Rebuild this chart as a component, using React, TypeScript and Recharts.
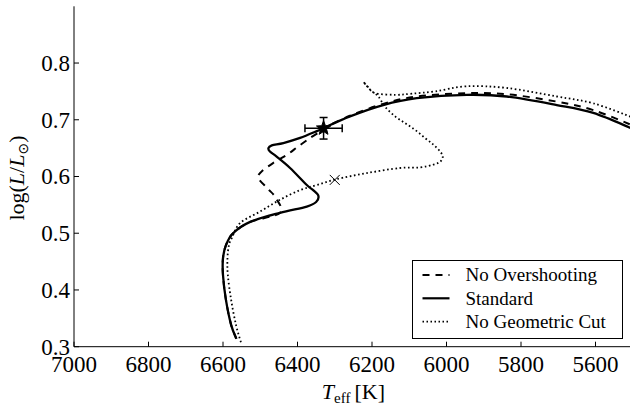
import React from 'react';
import { ComposedChart, Line, Scatter, XAxis, YAxis, ErrorBar, Legend } from 'recharts';

const FONT = "'Liberation Serif', serif";

const xTicks = [7000, 6800, 6600, 6400, 6200, 6000, 5800, 5600];
const yTicks = [0.3, 0.4, 0.5, 0.6, 0.7, 0.8];
const seriesNames = ['No Overshooting', 'Standard', 'No Geometric Cut'];

const standardT = [6564, 6578, 6592, 6600, 6600, 6592, 6573, 6527, 6447, 6375, 6350, 6344, 6358, 6375, 6420, 6456, 6474, 6478, 6469, 6438, 6393, 6348, 6331, 6259, 6170, 6080, 5946, 5838, 5704, 5606, 5500];
const standardL = [0.314, 0.338, 0.382, 0.426, 0.456, 0.479, 0.5, 0.52, 0.536, 0.547, 0.555, 0.566, 0.576, 0.585, 0.615, 0.635, 0.644, 0.65, 0.655, 0.659, 0.668, 0.68, 0.685, 0.706, 0.726, 0.738, 0.744, 0.741, 0.726, 0.712, 0.684];

const noOverT = [6564, 6578, 6592, 6600, 6600, 6592, 6573, 6527, 6447, 6458, 6479, 6505, 6496, 6465, 6429, 6398, 6366, 6340, 6331, 6259, 6170, 6080, 5946, 5838, 5704, 5606, 5500];
const noOverL = [0.314, 0.338, 0.382, 0.426, 0.456, 0.479, 0.5, 0.52, 0.536, 0.562, 0.578, 0.597, 0.609, 0.624, 0.638, 0.653, 0.668, 0.679, 0.685, 0.707, 0.728, 0.741, 0.747, 0.745, 0.732, 0.717, 0.69];

const noCutT = [6552, 6565, 6578, 6587, 6588, 6584, 6576, 6554, 6501, 6447, 6393, 6348, 6297, 6214, 6125, 6071, 6035, 6017, 6010, 6017, 6035, 6058, 6084, 6111, 6138, 6165, 6183, 6205, 6223, 6211, 6192, 6138, 6093, 6031, 5946, 5838, 5704, 5606, 5500];
const noCutL = [0.308, 0.338, 0.382, 0.426, 0.456, 0.479, 0.492, 0.518, 0.538, 0.559, 0.576, 0.585, 0.595, 0.606, 0.615, 0.616, 0.621, 0.626, 0.635, 0.644, 0.656, 0.668, 0.682, 0.694, 0.706, 0.723, 0.741, 0.753, 0.767, 0.758, 0.747, 0.744, 0.746, 0.75, 0.759, 0.756, 0.741, 0.729, 0.704];

const starT = [6330];
const starL = [0.685];
const starTErr = [50];
const starLErr = [0.019];

const crossT = [6300];
const crossL = [0.594];

const zip = (ts: number[], ls: number[]) => ts.map((t, i) => ({ t, l: ls[i] }));
const standardData = zip(standardT, standardL);
const noOverData = zip(noOverT, noOverL);
const noCutData = zip(noCutT, noCutL);
const starData = starT.map((t, i) => ({ t, l: starL[i], te: starTErr[i], le: starLErr[i] }));
const crossData = zip(crossT, crossL);

// Catmull-Rom style curve factory (applied by recharts to scaled points)
const smoothCurve = (context: any) => {
  let pts: [number, number][] = [];
  return {
    areaStart() {},
    areaEnd() {},
    lineStart() {
      pts = [];
    },
    lineEnd() {
      if (!pts.length) return;
      context.moveTo(pts[0][0], pts[0][1]);
      for (let i = 0; i < pts.length - 1; i++) {
        const p0 = pts[Math.max(0, i - 1)];
        const p1 = pts[i];
        const p2 = pts[i + 1];
        const p3 = pts[Math.min(pts.length - 1, i + 2)];
        context.bezierCurveTo(
          p1[0] + (p2[0] - p0[0]) / 6,
          p1[1] + (p2[1] - p0[1]) / 6,
          p2[0] - (p3[0] - p1[0]) / 6,
          p2[1] - (p3[1] - p1[1]) / 6,
          p2[0],
          p2[1]
        );
      }
    },
    point(x: number, y: number) {
      pts.push([x, y]);
    },
  };
};

const TICK_LEN = 5;

const BottomTick = (p: any) => (
  <g>
    <line x1={p.x} y1={p.y} x2={p.x} y2={p.y - TICK_LEN} stroke="#000" strokeWidth={1} />
    <text x={p.x} y={p.y + 25.3} textAnchor="middle" fontFamily={FONT} fontSize={23} fill="#000">
      {String(p.payload.value)}
    </text>
  </g>
);

const TopTick = (p: any) => (
  <line x1={p.x} y1={p.y} x2={p.x} y2={p.y + TICK_LEN} stroke="#000" strokeWidth={1} />
);

const LeftTick = (p: any) => (
  <g>
    <line x1={p.x} y1={p.y} x2={p.x + TICK_LEN} y2={p.y} stroke="#000" strokeWidth={1} />
    <text x={p.x - 4} y={p.y + 7.8} textAnchor="end" fontFamily={FONT} fontSize={23} fill="#000">
      {Number(p.payload.value).toFixed(1)}
    </text>
  </g>
);

const RightTick = (p: any) => (
  <line x1={p.x} y1={p.y} x2={p.x - TICK_LEN} y2={p.y} stroke="#000" strokeWidth={1} />
);

const XLabel = (p: any) => {
  const vb = p.viewBox || { x: 74, y: 346.7, width: 558.75, height: 56.3 };
  const cx = vb.x + vb.width / 2;
  const y = vb.y + 52.3;
  return (
    <text x={cx} y={y} textAnchor="middle" fontFamily={FONT} fontSize={22} fill="#000">
      <tspan fontStyle="italic">T</tspan>
      <tspan fontSize={15} dy={4}>eff</tspan>
      <tspan dy={-4} dx={4}>[K]</tspan>
    </text>
  );
};

const YLabel = (p: any) => {
  const vb = p.viewBox || { x: 0, y: 6.3, width: 74, height: 340.4 };
  const x = 24;
  const cy = vb.y + vb.height / 2 + 1.5;
  return (
    <text
      x={x}
      y={cy}
      transform={`rotate(-90, ${x}, ${cy})`}
      textAnchor="middle"
      fontFamily={FONT}
      fontSize={22}
      fill="#000"
    >
      log(<tspan fontStyle="italic">L</tspan>/<tspan fontStyle="italic">L</tspan>
      <tspan fontSize={14} dy={4} fontFamily="'DejaVu Sans', sans-serif">⊙</tspan>
      <tspan dy={-4}>)</tspan>
    </text>
  );
};

const StarShape = (p: any) => {
  const { cx, cy } = p;
  if (cx == null || cy == null) return <g />;
  const R = 7.5;
  const r = 3.2;
  const pts: string[] = [];
  for (let i = 0; i < 10; i++) {
    const ang = -Math.PI / 2 + (i * Math.PI) / 5;
    const rad = i % 2 === 0 ? R : r;
    pts.push(`${cx + rad * Math.cos(ang)},${cy + rad * Math.sin(ang)}`);
  }
  return <polygon points={pts.join(' ')} fill="#000" stroke="#000" strokeWidth={1} />;
};

const CrossShape = (p: any) => {
  const { cx, cy } = p;
  if (cx == null || cy == null) return <g />;
  const s = 5;
  return (
    <g stroke="#000" strokeWidth={1}>
      <line x1={cx - s} y1={cy - s} x2={cx + s} y2={cy + s} />
      <line x1={cx - s} y1={cy + s} x2={cx + s} y2={cy - s} />
    </g>
  );
};

const legendStyles = [
  { dash: '7 6', width: 2 },
  { dash: undefined, width: 2.2 },
  { dash: '1.5 2.5', width: 1.8 },
];

const LegendBox = () => (
  <svg width={211} height={79} style={{ display: 'block' }}>
    <rect x={0.5} y={0.5} width={210} height={78} fill="#fff" stroke="#000" strokeWidth={1} />
    {seriesNames.map((name, i) => {
      const cy = 15 + i * 23.3;
      return (
        <g key={name}>
          <line
            x1={10.5}
            y1={cy}
            x2={37.5}
            y2={cy}
            stroke="#000"
            strokeWidth={legendStyles[i].width}
            strokeDasharray={legendStyles[i].dash}
          />
          <text x={53.5} y={cy + 6.3} fontFamily={FONT} fontSize={19} fill="#000">
            {name}
          </text>
        </g>
      );
    })}
  </svg>
);

export default function App() {
  return (
    <div
      style={{
        position: 'absolute',
        left: 0,
        top: 0,
        width: 630,
        height: 403,
        overflow: 'hidden',
        background: '#fff',
      }}
    >
      <ComposedChart width={660} height={403} margin={{ top: 6.3, right: 27.25, bottom: 0, left: 0 }}>
        <XAxis
          type="number"
          dataKey="t"
          domain={[5500, 7000]}
          reversed
          allowDataOverflow
          ticks={xTicks}
          interval={0}
          height={56.3}
          tickSize={0}
          tickMargin={0}
          tickLine={false}
          axisLine={{ stroke: '#000', strokeWidth: 1 }}
          tick={BottomTick}
          label={<XLabel />}
        />
        <XAxis
          xAxisId="top"
          orientation="top"
          type="number"
          dataKey="t"
          domain={[5500, 7000]}
          reversed
          allowDataOverflow
          ticks={xTicks}
          interval={0}
          height={0}
          tickSize={0}
          tickMargin={0}
          tickLine={false}
          axisLine={{ stroke: '#000', strokeWidth: 1 }}
          tick={TopTick}
        />
        <YAxis
          type="number"
          domain={[0.3, 0.9]}
          allowDataOverflow
          ticks={yTicks}
          interval={0}
          width={74}
          tickSize={0}
          tickMargin={0}
          tickLine={false}
          axisLine={{ stroke: '#000', strokeWidth: 1 }}
          tick={LeftTick}
          label={<YLabel />}
        />
        <YAxis
          yAxisId="right"
          orientation="right"
          type="number"
          domain={[0.3, 0.9]}
          allowDataOverflow
          ticks={yTicks}
          interval={0}
          width={0}
          tickSize={0}
          tickMargin={0}
          tickLine={false}
          axisLine={{ stroke: '#000', strokeWidth: 1 }}
          tick={RightTick}
        />
        <Legend
          layout="vertical"
          align="center"
          verticalAlign="middle"
          content={() => <LegendBox />}
          wrapperStyle={{ left: 412, top: 260, width: 211, height: 79 }}
        />
        <Line
          name={seriesNames[0]}
          data={noOverData}
          dataKey="l"
          type={smoothCurve as any}
          stroke="#000"
          strokeWidth={2}
          strokeDasharray="7 6"
          dot={false}
          activeDot={false}
          isAnimationActive={false}
        />
        <Line
          name={seriesNames[1]}
          data={standardData}
          dataKey="l"
          type={smoothCurve as any}
          stroke="#000"
          strokeWidth={2.3}
          dot={false}
          activeDot={false}
          isAnimationActive={false}
        />
        <Line
          name={seriesNames[2]}
          data={noCutData}
          dataKey="l"
          type={smoothCurve as any}
          stroke="#000"
          strokeWidth={1.8}
          strokeDasharray="1.6 2.6"
          dot={false}
          activeDot={false}
          isAnimationActive={false}
        />
        <Scatter data={crossData} dataKey="l" shape={CrossShape} isAnimationActive={false} />
        <Scatter data={starData} dataKey="l" shape={StarShape} isAnimationActive={false}>
          <ErrorBar dataKey="te" direction="x" width={4} stroke="#000" strokeWidth={1.5} />
          <ErrorBar dataKey="le" direction="y" width={4} stroke="#000" strokeWidth={1.5} />
        </Scatter>
      </ComposedChart>
    </div>
  );
}
